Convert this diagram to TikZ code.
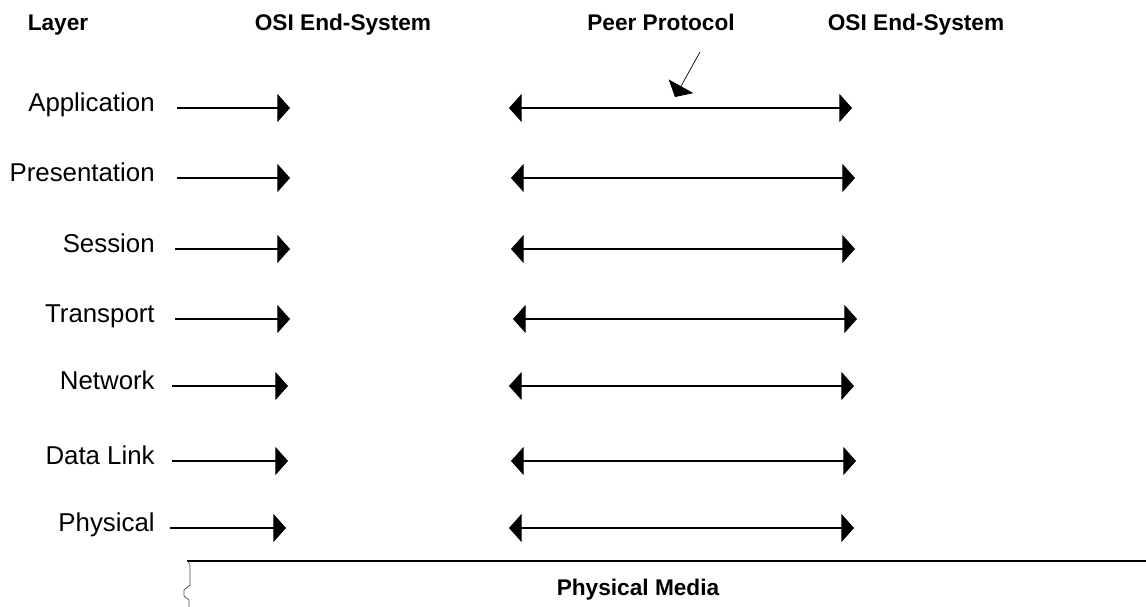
\documentclass[tikz,border=0pt]{standalone}
\usepackage{fontspec}
\setmainfont{Liberation Sans}
\usepackage{tikz}
\usetikzlibrary{arrows.meta, positioning}

\tikzset{
  lab/.style={font=\fontsize{14.7}{17}\selectfont, inner sep=0pt},
  head/.style={font=\bfseries\fontsize{12.9}{15}\selectfont, inner sep=0pt, anchor=base},
  wire/.style={line width=0.6pt},
  tip/.style={wire, -{Triangle[length=7.2pt, width=16pt]}},
  both/.style={wire, {Triangle[length=7.2pt, width=16pt]}-{Triangle[length=7.2pt, width=16pt]}}
}

\begin{document}
\begin{tikzpicture}[x=0.02cm, y=-0.02cm]
  \useasboundingbox (0,0) rectangle (1146,607);

  % Headings
  \node[head] (layer) at (58,31) {Layer};
  \node[head] (osil) at (343,31) {OSI End-System};
  \node[head] (peer) at (661,31) {Peer Protocol};
  \node[head] (osir) at (916,31) {OSI End-System};

  % Layers with their arrows
  \foreach \y/\nm/\txt/\a/\b/\c/\d in {
      108/app/Application/177/290/509/852,
      178/pres/Presentation/177/290/511/855,
      249/sess/Session/175/290/511/855,
      319/trans/Transport/175/290/513/857,
      386/net/Network/172/288/509/854,
      461/dl/{Data Link}/172/288/511/856,
      528/phy/Physical/170/286/509/854}{
    \node[lab, anchor=base east] (\nm) at (155,\y+4) {\txt};
    \coordinate (\nm-s) at (\a,\y);
    \coordinate (\nm-e) at (\b,\y);
    \coordinate (\nm-l) at (\c,\y);
    \coordinate (\nm-r) at (\d,\y);
    \draw[tip] (\nm-s) -- (\nm-e);
    \draw[both] (\nm-l) -- (\nm-r);
  }

  % Pointer to the peer protocol
  \coordinate (pp-s) at (700,52);
  \coordinate (pp-e) at (675,97);
  \draw[line width=0.4pt, -{Triangle[length=7pt, width=16pt]}] (pp-s) -- (pp-e);

  % Physical media
  \coordinate (med-l) at (187,561);
  \coordinate (med-r) at (1146,561);
  \draw[wire] (med-l) -- (med-r);
  \draw[line width=0.4pt, black!70] (med-l) -- (190,564) -- (190,585) -- (184,590)
    -- (184,596) -- (189,600) -- (189,607);
  \node[head] (media) at (638,595) {Physical Media};
\end{tikzpicture}
\end{document}
